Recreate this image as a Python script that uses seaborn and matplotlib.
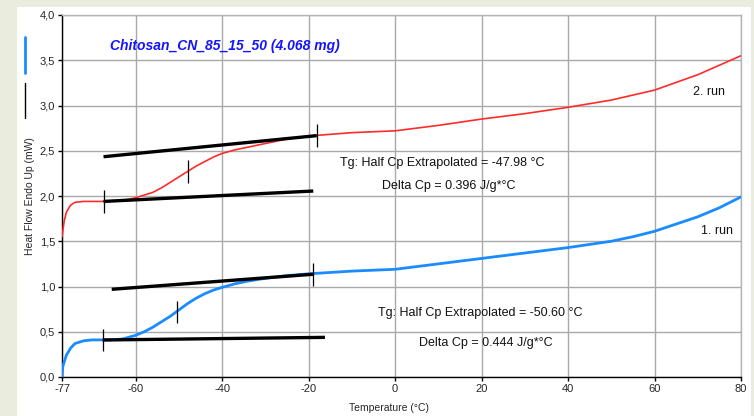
import matplotlib
matplotlib.use("Agg")
import matplotlib.pyplot as plt
from matplotlib.lines import Line2D
from matplotlib.patches import Rectangle
import seaborn as sns
import pandas as pd

# run 2 (red)
run2_temp = [-77.0, -76.5, -76.0, -75.0, -74.0, -72.0, -68.0, -64.0, -62.0, -60.0,
             -58.0, -56.0, -54.0, -52.0, -50.0, -48.0, -46.0, -44.0, -42.0, -40.0,
             -37.0, -34.0, -30.0, -26.0, -22.0, -18.0, -10.0, 0.0, 10.0, 20.0,
             30.0, 40.0, 50.0, 60.0, 70.0, 80.0]
run2_flow = [1.55, 1.72, 1.82, 1.90, 1.93, 1.94, 1.94, 1.95, 1.96, 1.98,
             2.01, 2.04, 2.09, 2.15, 2.21, 2.27, 2.33, 2.38, 2.43, 2.47,
             2.51, 2.54, 2.58, 2.62, 2.65, 2.67, 2.70, 2.72, 2.78, 2.85,
             2.91, 2.98, 3.06, 3.17, 3.34, 3.55]

# run 1 (blue)
run1_temp = [-77.0, -76.8, -76.0, -75.0, -74.0, -72.0, -70.0, -66.0, -63.0, -60.0,
             -58.0, -56.0, -54.0, -52.0, -50.0, -48.0, -46.0, -44.0, -42.0, -40.0,
             -37.0, -34.0, -30.0, -25.0, -20.0, -10.0, 0.0, 10.0, 20.0, 30.0,
             40.0, 50.0, 55.0, 60.0, 65.0, 70.0, 75.0, 80.0]
run1_flow = [0.00, 0.12, 0.24, 0.32, 0.37, 0.40, 0.41, 0.41, 0.42, 0.46,
             0.50, 0.55, 0.61, 0.67, 0.74, 0.81, 0.87, 0.92, 0.96, 0.99,
             1.03, 1.06, 1.09, 1.12, 1.14, 1.17, 1.19, 1.25, 1.31, 1.37,
             1.43, 1.50, 1.55, 1.61, 1.69, 1.77, 1.87, 1.99]

# tangent baselines (start/end)
base_x = [[-67.4, -18.1], [-67.4, -18.9], [-65.5, -19.0], [-67.6, -16.2]]
base_y = [[2.434, 2.667], [1.94, 2.055], [0.969, 1.135], [0.409, 0.438]]

# small markers on the curves
mark_x = [-67.4, -47.9, -18.1, -67.6, -50.5, -19.0]
mark_y = [1.94, 2.27, 2.67, 0.41, 0.72, 1.135]

x_ticks = [-77, -60, -40, -20, 0, 20, 40, 60, 80]
y_ticks = [0.0, 0.5, 1.0, 1.5, 2.0, 2.5, 3.0, 3.5, 4.0]
y_tick_labels = ["0,0", "0,5", "1,0", "1,5", "2,0", "2,5", "3,0", "3,5", "4,0"]

sns.set_theme(style="white")
plt.rcParams['font.family'] = ['Liberation Sans', 'DejaVu Sans']
plt.rcParams['axes.unicode_minus'] = False

fig = plt.figure(figsize=(7.54, 4.16), dpi=100)
fig.patch.set_facecolor("#eaeddd")
fig.add_artist(Rectangle((17 / 754, 0), (751 - 17) / 754, (416 - 7) / 416,
                         transform=fig.transFigure, facecolor="white", edgecolor="none", zorder=0))

ax = fig.add_axes([62 / 754, 39 / 416, 679 / 754, 362 / 416])
ax.set_facecolor("white")

df2 = pd.DataFrame({"T": run2_temp, "HF": run2_flow})
df1 = pd.DataFrame({"T": run1_temp, "HF": run1_flow})
sns.lineplot(data=df2, x="T", y="HF", ax=ax, color="#ff2a2a", lw=1.2, sort=False, estimator=None, zorder=3)
sns.lineplot(data=df1, x="T", y="HF", ax=ax, color="#1a8cff", lw=2.0, sort=False, estimator=None, zorder=3)

for bx, by in zip(base_x, base_y):
    ax.plot(bx, by, color="black", lw=2.4, solid_capstyle="butt", zorder=4)
ax.vlines(mark_x, [m - 0.125 for m in mark_y], [m + 0.125 for m in mark_y],
          color="black", lw=0.9, zorder=5)

ax.set_xlim(-77, 80)
ax.set_ylim(0, 4)
ax.set_xticks(x_ticks)
ax.set_xticklabels([str(t) for t in x_ticks])
ax.set_yticks(y_ticks)
ax.set_yticklabels(y_tick_labels)
ax.grid(True, color="#a9a9a9", lw=1)
ax.set_axisbelow(True)
ax.tick_params(axis="both", which="both", direction="out", length=3, width=1,
               color="black", labelsize=8, pad=2, left=True, bottom=True)
for s in ["left", "bottom"]:
    ax.spines[s].set_color("black")
    ax.spines[s].set_linewidth(1)
for s in ["top", "right"]:
    ax.spines[s].set_color("#b4b4b4")
    ax.spines[s].set_linewidth(1)

ax.set_xlabel("Temperature (°C)", fontsize=7.5)
ax.set_ylabel("Heat Flow Endo Up (mW)", fontsize=7.5)
ax.xaxis.set_label_coords(0.482, -0.072)
ax.yaxis.set_label_coords(-0.04, 0.5)

ax.text(-39.3, 3.66, "Chitosan_CN_85_15_50 (4.068 mg)", color="#1414ff", fontsize=10,
        fontweight="bold", fontstyle="italic", ha="center", va="center")
ax.text(11.0, 2.365, "Tg: Half Cp Extrapolated = -47.98 °C", fontsize=9, ha="center", va="center", color="#111111")
ax.text(12.5, 2.11, "Delta Cp = 0.396 J/g*°C", fontsize=9, ha="center", va="center", color="#111111")
ax.text(19.6, 0.707, "Tg: Half Cp Extrapolated = -50.60 °C", fontsize=9, ha="center", va="center", color="#111111")
ax.text(21.1, 0.376, "Delta Cp = 0.444 J/g*°C", fontsize=9, ha="center", va="center", color="#111111")
ax.text(72.6, 3.15, "2. run", fontsize=9, ha="center", va="center", color="#111111")
ax.text(74.4, 1.61, "1. run", fontsize=9, ha="center", va="center", color="#111111")

# legend keys beside the y label
fig.add_artist(Line2D([25 / 754, 25 / 754], [(416 - 73) / 416, (416 - 37) / 416],
                      transform=fig.transFigure, color="#1a8cff", lw=2))
fig.add_artist(Line2D([25 / 754, 25 / 754], [(416 - 118) / 416, (416 - 83) / 416],
                      transform=fig.transFigure, color="black", lw=1))

fig.savefig("out.png", dpi=100, facecolor=fig.get_facecolor())
